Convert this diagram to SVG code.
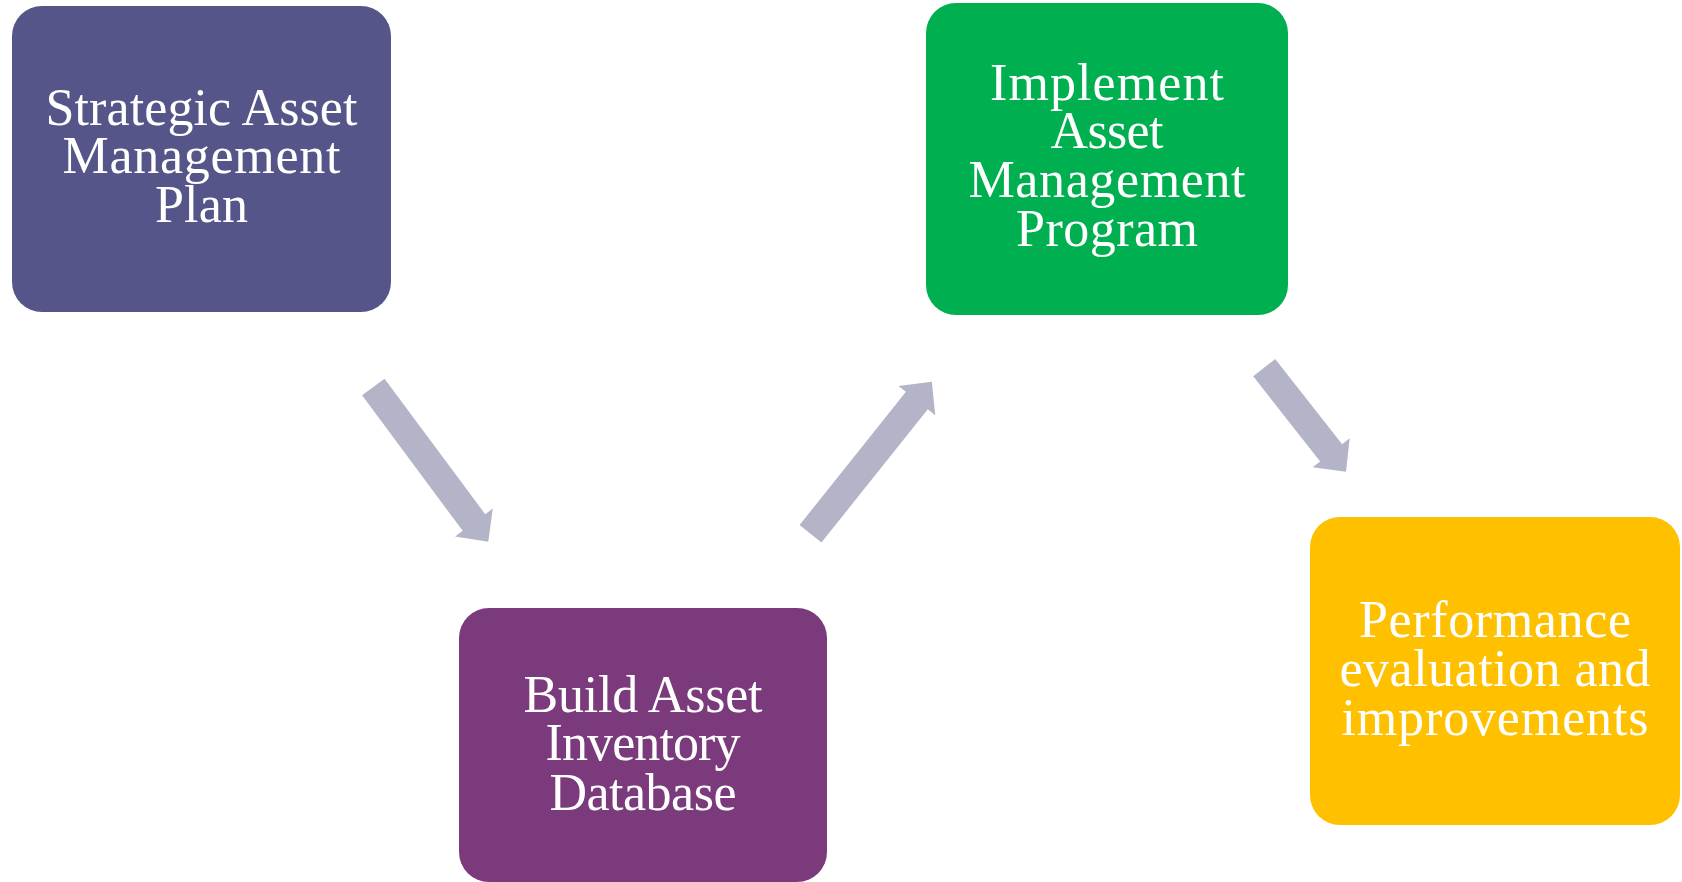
<svg xmlns="http://www.w3.org/2000/svg" width="1682" height="882" viewBox="0 0 1682 882">
  <style>
    .box { stroke: none; }
    .label { font-family: "Liberation Serif", "Times New Roman", serif; font-size: 52px; fill: #ffffff; text-anchor: middle; }
    .arrow { fill: #B4B4C8; }
  </style>
  <defs>
    <!-- block arrow pointing along +x, length 150 -->
    <polygon id="blockArrow" points="0,-14 126,-14 126,-23.5 150,0 126,23.5 126,14 0,14"/>
  </defs>
  <rect width="1682" height="882" fill="#ffffff"/>

  <g id="connectors" class="arrow">
    <!-- plan -> inventory -->
    <polygon points="0,-14 168.8,-14 168.8,-23.5 192.8,0 168.8,23.5 168.8,14 0,14" transform="translate(373.3,387) rotate(53.4)"/>
    <!-- inventory -> program -->
    <polygon points="0,-14 170.5,-14 170.5,-23.5 194.5,0 170.5,23.5 170.5,14 0,14" transform="translate(810.5,533.8) rotate(-51.4)"/>
    <!-- program -> evaluation -->
    <polygon points="0,-14 108.3,-14 108.3,-23.5 132.3,0 108.3,23.5 108.3,14 0,14" transform="translate(1264.2,367.7) rotate(51.8)"/>
  </g>

  <g id="node-plan">
    <rect class="box" x="12" y="6" width="379" height="306" rx="30" fill="#55558A"/>
    <text class="label" x="201.5" y="125" textLength="312" lengthAdjust="spacing">Strategic Asset</text>
    <text class="label" x="201.5" y="173" textLength="278" lengthAdjust="spacing">Management</text>
    <text class="label" x="201.5" y="222" textLength="93" lengthAdjust="spacing">Plan</text>
  </g>

  <g id="node-program">
    <rect class="box" x="926" y="3" width="362" height="312" rx="30" fill="#00B050"/>
    <text class="label" x="1107" y="100" textLength="234" lengthAdjust="spacing">Implement</text>
    <text class="label" x="1107" y="148" textLength="113" lengthAdjust="spacing">Asset</text>
    <text class="label" x="1107" y="197" textLength="277" lengthAdjust="spacing">Management</text>
    <text class="label" x="1107" y="246" textLength="182" lengthAdjust="spacing">Program</text>
  </g>

  <g id="node-inventory">
    <rect class="box" x="459" y="608" width="368" height="274" rx="30" fill="#7A3A7C"/>
    <text class="label" x="643" y="712" textLength="239" lengthAdjust="spacing">Build Asset</text>
    <text class="label" x="643" y="760" textLength="195" lengthAdjust="spacing">Inventory</text>
    <text class="label" x="643" y="810" textLength="187" lengthAdjust="spacing">Database</text>
  </g>

  <g id="node-evaluation">
    <rect class="box" x="1310" y="517" width="370" height="308" rx="30" fill="#FFC000"/>
    <text class="label" x="1495" y="637" textLength="272" lengthAdjust="spacing">Performance</text>
    <text class="label" x="1495" y="686" textLength="311" lengthAdjust="spacing">evaluation and</text>
    <text class="label" x="1495" y="735" textLength="307" lengthAdjust="spacing">improvements</text>
  </g>
</svg>
